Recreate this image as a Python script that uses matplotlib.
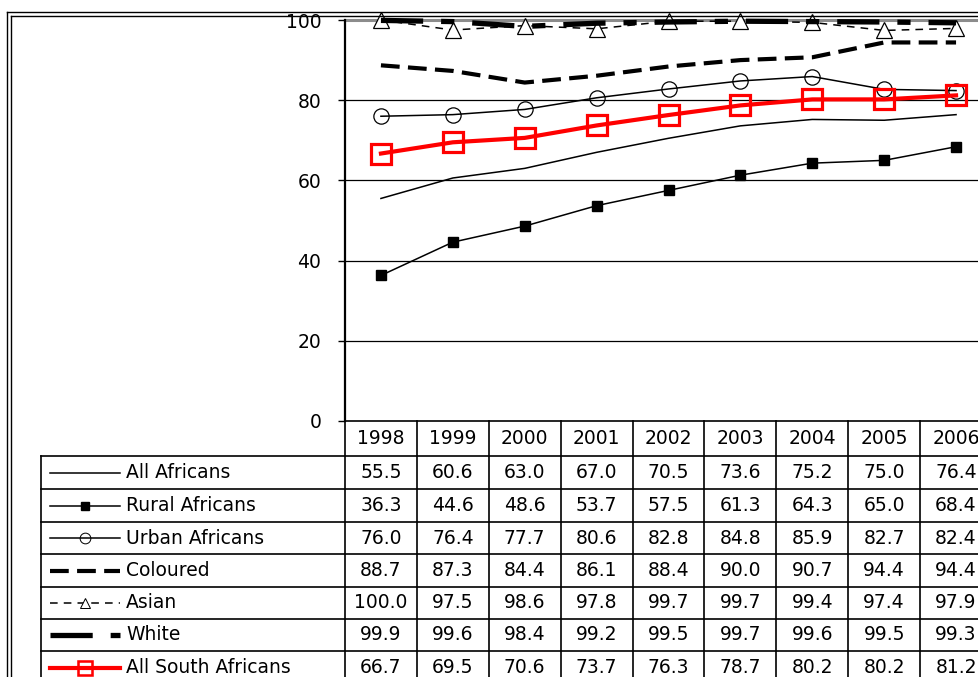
import numpy as np
import matplotlib.pyplot as plt
from matplotlib.lines import Line2D
from matplotlib.transforms import blended_transform_factory

plt.rcParams['font.family'] = ['DejaVu Sans']

years = ["1998", "1999", "2000", "2001", "2002", "2003", "2004", "2005", "2006"]
all_africans = [55.5, 60.6, 63.0, 67.0, 70.5, 73.6, 75.2, 75.0, 76.4]
rural_africans = [36.3, 44.6, 48.6, 53.7, 57.5, 61.3, 64.3, 65.0, 68.4]
urban_africans = [76.0, 76.4, 77.7, 80.6, 82.8, 84.8, 85.9, 82.7, 82.4]
coloured = [88.7, 87.3, 84.4, 86.1, 88.4, 90.0, 90.7, 94.4, 94.4]
asian = [100.0, 97.5, 98.6, 97.8, 99.7, 99.7, 99.4, 97.4, 97.9]
white = [99.9, 99.6, 98.4, 99.2, 99.5, 99.7, 99.6, 99.5, 99.3]
all_sa = [66.7, 69.5, 70.6, 73.7, 76.3, 78.7, 80.2, 80.2, 81.2]

series = [
    ("All Africans", all_africans,
     dict(color="black", lw=1.1, ls="-")),
    ("Rural Africans", rural_africans,
     dict(color="black", lw=1.1, ls="-", marker="s", ms=7.5, mfc="black", mec="black")),
    ("Urban Africans", urban_africans,
     dict(color="black", lw=1.1, ls="-", marker="o", ms=11, mfc="none", mec="black", mew=0.9)),
    ("Coloured", coloured,
     dict(color="black", lw=3.0, ls=(0, (4.5, 2.0)))),
    ("Asian", asian,
     dict(color="black", lw=1.1, ls=(0, (5, 4)), marker="^", ms=11, mfc="white", mec="black", mew=0.9)),
    ("White", white,
     dict(color="black", lw=3.8, ls=(0, (8, 3.4, 2.5, 3.4)))),
    ("All South Africans", all_sa,
     dict(color="#ff0000", lw=3.0, ls="-", marker="s", ms=14, mfc="none", mec="#ff0000", mew=2.3)),
]

W, H = 979, 677
fig = plt.figure(figsize=(W / 100, H / 100), dpi=100)
fig.patch.set_facecolor("white")


def fx(x):
    return x / W


def fy(y):
    return 1 - y / H


ax = fig.add_axes([fx(345), fy(421), (992 - 345) / W, (421 - 20) / H])
x = np.arange(len(years))
ax.set_xlim(-0.5, len(years) - 0.5)
ax.set_ylim(0, 100)

for v in [20, 40, 60, 80]:
    ax.axhline(v, color="black", lw=0.9, zorder=1)
ax.axhline(100, color="#8c8c8c", lw=2.2, zorder=1, clip_on=False)

for name, vals, st in series:
    ax.plot(x, vals, clip_on=False, zorder=3, **st)

ax.set_xticks([])
ax.set_yticks([0, 20, 40, 60, 80, 100])
ax.tick_params(axis="y", direction="out", length=5, width=1, pad=12, labelsize=13.5)
for s in ["top", "right", "bottom"]:
    ax.spines[s].set_visible(False)
ax.spines["left"].set_linewidth(1.6)

# data table under the chart
tr = blended_transform_factory(ax.transData, fig.transFigure)
rows = [456, 489, 522, 554, 587, 619, 651, 684]
bottom = 700

ax.add_artist(Line2D([-0.5, len(years) - 0.5], [fy(421), fy(421)], transform=tr,
                     color="black", lw=1.2, clip_on=False))
for i in range(len(years) + 1):
    ax.add_artist(Line2D([i - 0.5, i - 0.5], [fy(421), fy(bottom)], transform=tr,
                         color="black", lw=1.2, clip_on=False))
for r in rows[:-1]:
    fig.add_artist(Line2D([fx(41), 1.05], [fy(r), fy(r)], transform=fig.transFigure,
                          color="black", lw=1.2))
fig.add_artist(Line2D([fx(41), fx(41)], [fy(456), fy(bottom)], transform=fig.transFigure,
                      color="black", lw=1.2))

for i, yr in enumerate(years):
    ax.text(i, fy(438.5), yr, transform=tr, ha="center", va="center",
            fontsize=13.5, clip_on=False)

for k, (name, vals, st) in enumerate(series):
    yc = fy((rows[k] + rows[k + 1]) / 2)
    for i, v in enumerate(vals):
        ax.text(i, yc, f"{v:.1f}", transform=tr, ha="center", va="center",
                fontsize=13.5, clip_on=False)
    key = dict(st)
    if "ms" in key:
        key["ms"] = key["ms"] * 0.7
    if "mew" in key:
        key["mew"] = key["mew"] * 0.8
    fig.add_artist(Line2D([fx(50), fx(85), fx(120)], [yc, yc, yc], transform=fig.transFigure,
                          markevery=[1], **key))
    fig.text(fx(126), yc, name, ha="left", va="center", fontsize=13.5)

# outer double frame
for off in [0, 4]:
    fig.add_artist(Line2D([fx(7 + off), fx(7 + off)], [fy(12 + off), fy(bottom)],
                          transform=fig.transFigure, color="black", lw=1.0))
    fig.add_artist(Line2D([fx(7 + off), 1.05], [fy(12 + off), fy(12 + off)],
                          transform=fig.transFigure, color="black", lw=1.0))

fig.savefig("out.png", dpi=100, facecolor="white")
